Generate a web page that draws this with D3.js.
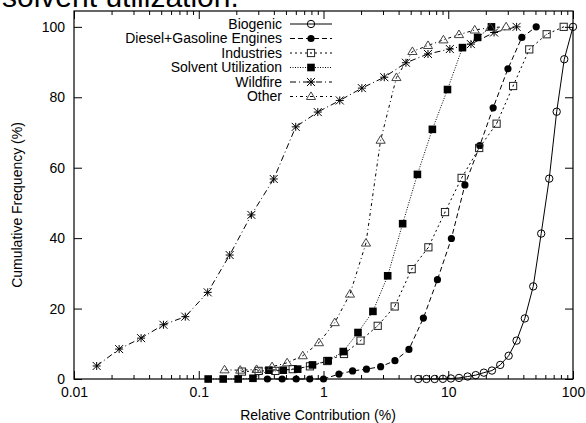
<!DOCTYPE html>
<html>
<head>
<meta charset="utf-8">
<script src="https://cdn.jsdelivr.net/npm/d3@7"></script>
<style>
body { margin: 0; background: #fff; overflow: hidden; }
text { font-family: "Liberation Sans", Arial, sans-serif; }
</style>
</head>
<body>
<div class="graph"></div>
<script>
// series names, in legend order
var categories = ["Biogenic", "Diesel+Gasoline Engines", "Industries", "Solvent Utilization", "Wildfire", "Other"]

// relative contribution (%) / cumulative frequency (%)
var biogenicX = [5.74, 6.68, 7.78, 9.06, 10.5, 12.2, 14.3, 16.6, 19.3, 22.4, 26.1, 30.5, 35.3, 41.1, 48.0, 55.6, 64.5, 74.0, 85.1, 100]
var biogenicY = [0, 0, 0, 0.05, 0.15, 0.3, 0.7, 1.1, 1.8, 2.4, 4.0, 6.6, 10.9, 17.2, 26.3, 41.3, 56.9, 75.9, 90.8, 100]

var dieselX = [0.355, 0.466, 0.604, 0.776, 1.0, 1.33, 1.71, 2.21, 2.87, 3.74, 4.84, 6.32, 8.19, 10.6, 13.6, 17.9, 22.9, 30.1, 38.9, 50.7]
var dieselY = [0, 0, 0, 0, 0, 1.4, 2.3, 2.8, 3.5, 5.2, 8.4, 17.3, 28.2, 39.9, 55.1, 66.3, 77.0, 88.1, 97.0, 100]

var industriesX = [0.222, 0.302, 0.411, 0.566, 0.779, 1.07, 1.46, 1.98, 2.72, 3.72, 5.09, 6.93, 9.42, 12.8, 17.7, 24.4, 33.1, 44.6, 61.5, 84.2]
var industriesY = [2.1, 2.3, 2.3, 2.8, 3.6, 5.1, 7.1, 10.9, 15.1, 20.6, 31.2, 37.4, 47.4, 57.1, 65.6, 72.5, 83.2, 93.6, 97.9, 100]

var solventX = [0.119, 0.157, 0.207, 0.272, 0.365, 0.476, 0.621, 0.816, 1.09, 1.44, 1.89, 2.49, 3.27, 4.31, 5.66, 7.46, 9.86, 13.0, 17.2, 22.2]
var solventY = [0, 0, 0, 0.2, 2.5, 2.5, 2.8, 4.0, 5.2, 7.8, 13.2, 19.2, 29.3, 44.1, 58.1, 70.9, 82.2, 94.1, 97.0, 100]

var wildfireX = [0.0152, 0.023, 0.0345, 0.0521, 0.078, 0.118, 0.177, 0.264, 0.399, 0.599, 0.900, 1.35, 2.03, 3.07, 4.58, 6.88, 10.3, 15.2, 23.3, 35.3]
var wildfireY = [3.7, 8.5, 11.6, 15.4, 17.7, 24.6, 35.2, 46.6, 56.8, 71.6, 75.8, 79.1, 82.6, 85.7, 89.8, 92.3, 93.7, 95.1, 98.4, 100]

var otherX = [0.161, 0.215, 0.291, 0.387, 0.511, 0.682, 0.920, 1.23, 1.63, 2.19, 2.87, 3.84, 5.16, 6.88, 9.15, 12.2, 16.3, 21.7, 29.1]
var otherY = [2.6, 2.5, 2.7, 3.5, 4.6, 6.6, 10.3, 16.0, 24.1, 38.6, 67.8, 85.6, 93.0, 94.7, 96.3, 97.8, 99.1, 99.8, 100]

var xMajorTicks = [0.01, 0.1, 1, 10, 100]
var yTicks = [0, 20, 40, 60, 80, 100]

// size and plot box
var basewidth = 586, baseheight = 423
var box = {left: 74, right: 573, top: 11, bottom: 379}

var svg = d3.select('.graph')
    .append('svg')
    .attr('width', basewidth)
    .attr('height', baseheight)

var x = d3.scaleLog().domain([0.01, 100]).range([box.left, box.right])
var y = d3.scaleLinear().domain([0, 104.5]).range([box.bottom, box.top])

// cut-off caption line above the chart
svg.append('text')
    .attr('x', 2)
    .attr('y', 7)
    .style('font-size', '30px')
    .text('solvent utilization.')

// axes, gnuplot style ticks pointing inwards
var xMinorTicks = x.ticks().filter(function(d) { return xMajorTicks.indexOf(d) < 0 })

function styleAxis(g) {
    g.select('.domain').remove()
    g.selectAll('line').attr('stroke', '#000')
    g.selectAll('text').style('font-size', '14px').attr('fill', '#000')
    g.attr('font-family', null)
}

svg.append('g')
    .attr('transform', 'translate(0,' + box.bottom + ')')
    .call(d3.axisBottom(x).tickValues(xMajorTicks).tickFormat(d3.format('~g'))
        .tickSizeInner(-8).tickSizeOuter(0).tickPadding(8))
    .call(styleAxis)
svg.append('g')
    .attr('transform', 'translate(0,' + box.bottom + ')')
    .call(d3.axisBottom(x).tickValues(xMinorTicks).tickFormat('').tickSizeInner(-4).tickSizeOuter(0))
    .call(styleAxis)
svg.append('g')
    .attr('transform', 'translate(0,' + box.top + ')')
    .call(d3.axisTop(x).tickValues(xMajorTicks).tickFormat('').tickSizeInner(-8).tickSizeOuter(0))
    .call(styleAxis)
svg.append('g')
    .attr('transform', 'translate(0,' + box.top + ')')
    .call(d3.axisTop(x).tickValues(xMinorTicks).tickFormat('').tickSizeInner(-4).tickSizeOuter(0))
    .call(styleAxis)
svg.append('g')
    .attr('transform', 'translate(' + box.left + ',0)')
    .call(d3.axisLeft(y).tickValues(yTicks).tickSizeInner(-8).tickSizeOuter(0).tickPadding(9))
    .call(styleAxis)
svg.append('g')
    .attr('transform', 'translate(' + box.right + ',0)')
    .call(d3.axisRight(y).tickValues(yTicks).tickFormat('').tickSizeInner(-8).tickSizeOuter(0))
    .call(styleAxis)

svg.append('rect')
    .attr('x', box.left).attr('y', box.top)
    .attr('width', box.right - box.left).attr('height', box.bottom - box.top)
    .attr('fill', 'none').attr('stroke', '#000').attr('stroke-width', 1.2)

// axis titles
svg.append('text')
    .attr('x', 318).attr('y', 419.5)
    .attr('text-anchor', 'middle')
    .style('font-size', '14px')
    .text('Relative Contribution (%)')
svg.append('text')
    .attr('transform', 'translate(22,205) rotate(-90)')
    .attr('text-anchor', 'middle')
    .style('font-size', '14px')
    .text('Cumulative Frequency (%)')

// markers
function marker(g, type, cx, cy) {
    if (type == 'ocircle') {
        g.append('circle').attr('cx', cx).attr('cy', cy).attr('r', 3.7)
            .attr('fill', 'none').attr('stroke', '#000')
    } else if (type == 'fcircle') {
        g.append('circle').attr('cx', cx).attr('cy', cy).attr('r', 3.6).attr('fill', '#000')
    } else if (type == 'osquare') {
        g.append('rect').attr('x', cx - 3.6).attr('y', cy - 3.6).attr('width', 7.2).attr('height', 7.2)
            .attr('fill', 'none').attr('stroke', '#222')
        g.append('circle').attr('cx', cx).attr('cy', cy).attr('r', 0.6).attr('fill', '#444')
    } else if (type == 'fsquare') {
        g.append('rect').attr('x', cx - 3.8).attr('y', cy - 3.8).attr('width', 7.6).attr('height', 7.6)
            .attr('fill', '#000')
    } else if (type == 'star') {
        var s = 4
        g.append('path')
            .attr('d', `M${cx - s},${cy} h${2 * s} M${cx},${cy - s} v${2 * s} M${cx - s},${cy - s} l${2 * s},${2 * s} M${cx - s},${cy + s} l${2 * s},${-2 * s}`)
            .attr('stroke', '#000').attr('stroke-width', 1)
    } else if (type == 'triangle') {
        g.append('path')
            .attr('d', `M${cx},${cy - 4.6} L${cx + 4.6},${cy + 3} L${cx - 4.6},${cy + 3} Z`)
            .attr('fill', 'none').attr('stroke', '#444')
    }
}

var series = [
    {xs: biogenicX, ys: biogenicY, dash: null, mark: 'ocircle'},
    {xs: dieselX, ys: dieselY, dash: '5,3', mark: 'fcircle'},
    {xs: industriesX, ys: industriesY, dash: '2,3', mark: 'osquare'},
    {xs: solventX, ys: solventY, dash: '1,1.5', mark: 'fsquare'},
    {xs: wildfireX, ys: wildfireY, dash: '6,3,1,3', mark: 'star'},
    {xs: otherX, ys: otherY, dash: '3,3,1,3', mark: 'triangle'}
]

var line = d3.line()
    .x(function(d) { return x(d[0]) })
    .y(function(d) { return y(d[1]) })

series.forEach(function(s, i) {
    var pts = s.xs.map(function(v, j) { return [v, s.ys[j]] })
    var g = svg.append('g')
    g.append('path')
        .attr('d', line(pts))
        .attr('fill', 'none')
        .attr('stroke', '#000')
        .attr('stroke-width', 1)
        .attr('stroke-dasharray', s.dash)
    pts.forEach(function(p) { marker(g, s.mark, x(p[0]), y(p[1])) })

    // legend row
    var ly = 24 + i * 14.5
    svg.append('text')
        .attr('x', 282).attr('y', ly).attr('dy', '0.35em')
        .attr('text-anchor', 'end')
        .style('font-size', '14px')
        .text(categories[i])
    svg.append('line')
        .attr('x1', 290).attr('x2', 332).attr('y1', ly).attr('y2', ly)
        .attr('stroke', '#000').attr('stroke-dasharray', s.dash)
    marker(svg.append('g'), s.mark, 311, ly)
})
</script>
</body>
</html>
